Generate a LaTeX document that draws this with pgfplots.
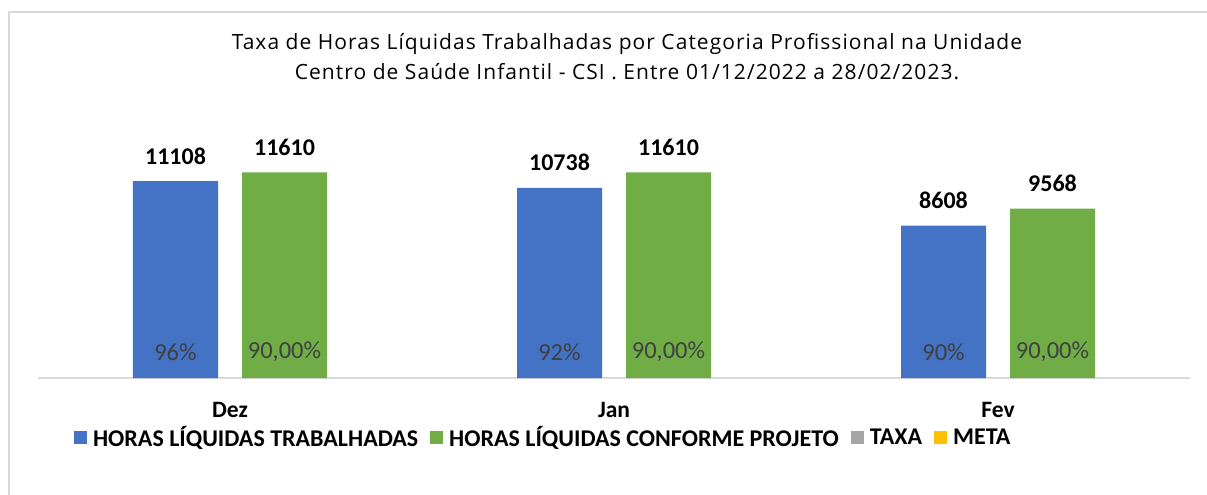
\documentclass[border=0pt]{standalone}
\usepackage{fontspec}
\setmainfont{Carlito}
\newfontfamily\titlefont[LetterSpace=5]{Open Sans}
\usepackage{pgfplots}
\pgfplotsset{compat=1.18}
\definecolor{hblue}{HTML}{4472C4}
\definecolor{hgreen}{HTML}{70AD47}
\definecolor{hgray}{HTML}{A5A5A5}
\definecolor{hyellow}{HTML}{FFC000}
\definecolor{frame}{HTML}{D9D9D9}
\definecolor{pct}{HTML}{404040}

\begin{document}
\begin{tikzpicture}
\useasboundingbox (0,0) rectangle (1207bp,495bp);
\draw[frame, line width=2bp] (9bp,0) -- (9bp,483bp) -- (1207bp,483bp);
\node[align=center, font=\titlefont\fontsize{21bp}{30bp}\selectfont] at (627bp,438bp)
  {Taxa de Horas Líquidas Trabalhadas por Categoria Profissional na Unidade\\
   Centro de Saúde Infantil - CSI . Entre 01/12/2022 a 28/02/2023.};
\begin{axis}[
  at={(38bp,117bp)}, anchor=south west,
  scale only axis, width=1152bp, height=248bp,
  ybar, bar width=85bp,
  xmin=-0.5, xmax=2.5, ymin=0, ymax=14000,
  axis y line=none, axis x line*=bottom,
  x axis line style={frame, line width=2bp, -},
  xtick=data, xticklabels={Dez,Jan,Fev}, major tick length=0pt,
  xticklabel style={font=\fontsize{23.5bp}{26bp}\selectfont\bfseries, anchor=center, yshift=-32bp},
  /pgf/number format/.cd, 1000 sep={}, assume math mode=true, /pgfplots/.cd,
  nodes near coords,
  every node near coord/.append style={font=\fontsize{24bp}{26bp}\selectfont\bfseries, anchor=center, yshift=25bp},
  legend style={draw=none, at={(0.439,-0.24)}, anchor=center,
    font=\fontsize{24bp}{26bp}\selectfont\bfseries,
    nodes={inner xsep=3bp},
    /tikz/every odd column/.append style={column sep=3bp},
    /tikz/every even column/.append style={column sep=9bp}},
  legend columns=-1,
  legend image code/.code={\fill[#1] (0bp,-6.5bp) rectangle (13bp,6.5bp);},
]
\addplot[fill=hblue, draw=none, bar shift=-54.5bp] coordinates {(0,11108) (1,10738) (2,8608)};
\addlegendentry{HORAS LÍQUIDAS TRABALHADAS}
\addplot[fill=hgreen, draw=none, bar shift=54.5bp] coordinates {(0,11610) (1,11610) (2,9568)};
\addlegendentry{HORAS LÍQUIDAS CONFORME PROJETO}
\addlegendimage{fill=hgray, draw=none}
\addlegendentry{TAXA}
\addlegendimage{fill=hyellow, draw=none}
\addlegendentry{META}
% percentages written inside the bars
\addplot[forget plot, draw=none, fill=none, bar shift=-54.5bp,
  point meta=explicit symbolic,
  every node near coord/.append style={font=\fontsize{24.5bp}{26bp}\selectfont\mdseries, text=pct, yshift=1bp}]
  coordinates {(0,0) [96\%] (1,0) [92\%] (2,0) [90\%]};
\addplot[forget plot, draw=none, fill=none, bar shift=54.5bp,
  point meta=explicit symbolic,
  every node near coord/.append style={font=\fontsize{24.5bp}{26bp}\selectfont\mdseries, text=pct, yshift=1bp}]
  coordinates {(0,0) [90,00\%] (1,0) [90,00\%] (2,0) [90,00\%]};
\end{axis}
\end{tikzpicture}
\end{document}
